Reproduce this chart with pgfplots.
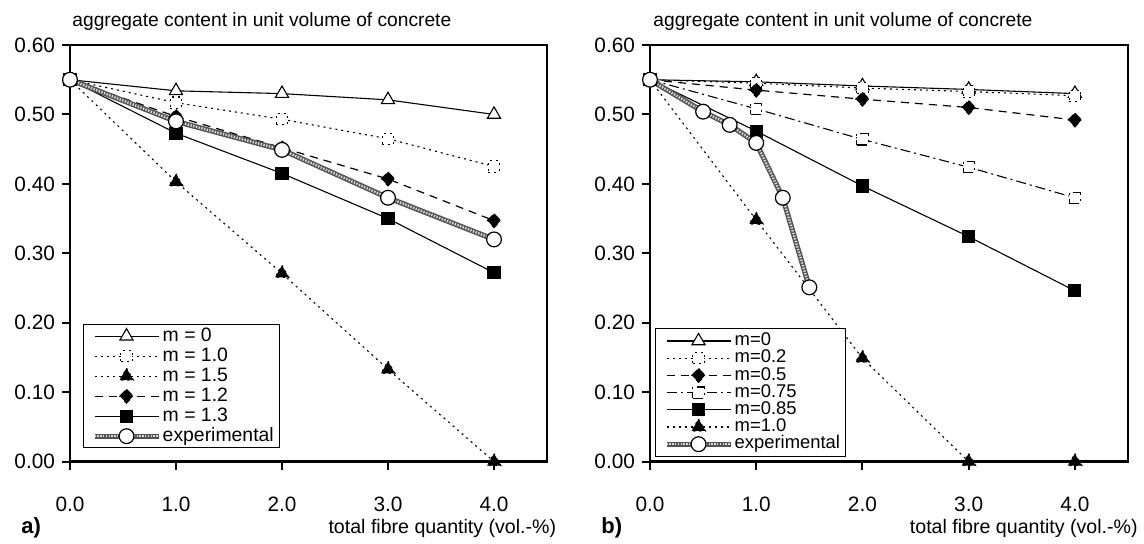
\documentclass[border=0pt]{standalone}
\usepackage{fontspec}
\setmainfont{Liberation Sans}
\usepackage{pgfplots}
\pgfplotsset{compat=1.18}

\pgfplotsset{
  panel/.style={
    scale only axis, height=208.3pt,
    xmin=0, xmax=4.5, ymin=0, ymax=0.6,
    xtick={0,1,2,3,4}, ytick={0,0.1,0.2,0.3,0.4,0.5,0.6},
    /pgf/number format/assume math mode=true,
    xticklabel style={/pgf/number format/.cd, fixed, fixed zerofill, precision=1, /tikz/.cd, yshift=-10pt},
    yticklabel style={/pgf/number format/.cd, fixed, fixed zerofill, precision=2},
    tick label style={font=\fontsize{10.4}{12}\selectfont},
    tick align=outside, tick pos=left, major tick length=4pt,
    major tick style={black, line width=1pt},
    axis line style={line width=1.3pt},
    clip=false,
    legend cell align=left,
    legend image code/.code={\path (0pt,0pt); \draw[mark repeat=2, mark phase=2, ##1] plot coordinates {(2.2pt,0pt) (18.2pt,0pt) (34.2pt,0pt)};},
    legend style={anchor=south west, draw=black, line width=0.5pt,
      inner xsep=2pt},
  },
  s solid/.style={black, solid, line width=0.55pt, mark options={solid, line width=0.55pt}},
  s dotted/.style={black, line width=0.55pt, dash pattern=on 1pt off 2pt, mark options={solid, line width=0.55pt}},
  s dashed/.style={black, line width=0.6pt, dash pattern=on 4pt off 3pt, mark options={solid, line width=0.55pt}},
  s dashdot/.style={black, line width=0.55pt, dash pattern=on 5pt off 2pt on 1pt off 2pt, mark options={solid, line width=0.55pt}},
  m otri/.style={mark=triangle*, mark size=3.8pt, mark options={fill=white}},
  m ftri/.style={mark=triangle*, mark size=4pt, mark options={fill=black}},
  m osq/.style={mark=square*, mark size=2.8pt, mark options={fill=white}},
  m fsq/.style={mark=square*, mark size=3pt, mark options={fill=black}},
  m fdia/.style={mark=diamond*, mark size=3.4pt, mark options={fill=black, xscale=1.3}},
  s exp/.style={draw=gray!65!black, line width=2.6pt,
    postaction={draw=gray!30, line width=1.2pt, dash pattern=on 0.7pt off 0.7pt},
    mark=*, mark size=3.7pt,
    mark options={solid, fill=white, draw=black, line width=0.6pt}},
}

\begin{document}
\begin{tikzpicture}
\path (0,0) rectangle (572pt,-271.5pt);

% ---------------- panel a ----------------
\begin{axis}[panel, width=238.5pt, at={(35pt,-22.5pt)}, anchor=north west,
  legend style={at={(0.0273,0.0329)}, font=\fontsize{9.7}{11}\selectfont, inner ysep=0.6pt,
    nodes={text height=7.2pt, text depth=2.1pt, inner xsep=0.8pt, inner ysep=0.35pt}}]
\addplot[s solid, m otri] coordinates {(0,0.55) (1,0.534) (2,0.530) (3,0.521) (4,0.500)};
\addlegendentry{m = 0}
\addplot[s dotted, m osq] coordinates {(0,0.55) (1,0.517) (2,0.493) (3,0.465) (4,0.425)};
\addlegendentry{m = 1.0}
\addplot[s dotted, m ftri] coordinates {(0,0.55) (1,0.403) (2,0.271) (3,0.133) (4,0.000)};
\addlegendentry{m = 1.5}
\addplot[s dashed, m fdia] coordinates {(0,0.55) (1,0.497) (2,0.452) (3,0.407) (4,0.347)};
\addlegendentry{m = 1.2}
\addplot[s solid, m fsq] coordinates {(0,0.55) (1,0.473) (2,0.415) (3,0.350) (4,0.272)};
\addlegendentry{m = 1.3}
\addplot[s exp] coordinates {(0,0.55) (1,0.490) (2,0.449) (3,0.380) (4,0.320)};
\addlegendentry{experimental}
\end{axis}

% ---------------- panel b ----------------
\begin{axis}[panel, width=239pt, at={(325pt,-22.5pt)}, anchor=north west,
  legend style={at={(0.0105,0.0113)}, font=\fontsize{9.2}{10.5}\selectfont, inner ysep=1.8pt,
    nodes={text height=6.7pt, text depth=1.9pt, inner xsep=0.8pt, inner ysep=0pt}}]
\addplot[s solid, m otri] coordinates {(0,0.55) (1,0.547) (2,0.541) (3,0.536) (4,0.530)};
\addlegendentry{m=0}
\addplot[s dotted, m osq] coordinates {(0,0.55) (1,0.545) (2,0.538) (3,0.533) (4,0.527)};
\addlegendentry{m=0.2}
\addplot[s dashed, m fdia] coordinates {(0,0.55) (1,0.535) (2,0.522) (3,0.510) (4,0.492)};
\addlegendentry{m=0.5}
\addplot[s dashdot, m osq] coordinates {(0,0.55) (1,0.508) (2,0.464) (3,0.424) (4,0.380)};
\addlegendentry{m=0.75}
\addplot[s solid, m fsq] coordinates {(0,0.55) (1,0.476) (2,0.397) (3,0.324) (4,0.246)};
\addlegendentry{m=0.85}
\addplot[s dotted, m ftri] coordinates {(0,0.55) (1,0.348) (2,0.149) (3,0.000) (4,0.000)};
\addlegendentry{m=1.0}
\addplot[s exp] coordinates {(0,0.55) (0.5,0.504) (0.75,0.485) (1,0.459) (1.25,0.380) (1.5,0.251)};
\addlegendentry{experimental}
\end{axis}

% ---------------- texts ----------------
\node[anchor=base west, inner sep=0pt, font=\fontsize{9.6}{12}\selectfont] at (36pt,-13.3pt) {aggregate content in unit volume of concrete};
\node[anchor=base west, inner sep=0pt, font=\fontsize{9.6}{12}\selectfont] at (326.5pt,-13.3pt) {aggregate content in unit volume of concrete};
\node[anchor=base east, inner sep=0pt, font=\fontsize{9.8}{12}\selectfont] at (278.3pt,-266.5pt) {total fibre quantity (vol.-\%)};
\node[anchor=base east, inner sep=0pt, font=\fontsize{9.8}{12}\selectfont] at (569pt,-266.5pt) {total fibre quantity (vol.-\%)};
\node[anchor=base west, inner sep=0pt, font=\fontsize{11}{12}\selectfont\bfseries] at (10.5pt,-266.5pt) {a)};
\node[anchor=base west, inner sep=0pt, font=\fontsize{11}{12}\selectfont\bfseries] at (300.5pt,-266.5pt) {b)};
\end{tikzpicture}
\end{document}
